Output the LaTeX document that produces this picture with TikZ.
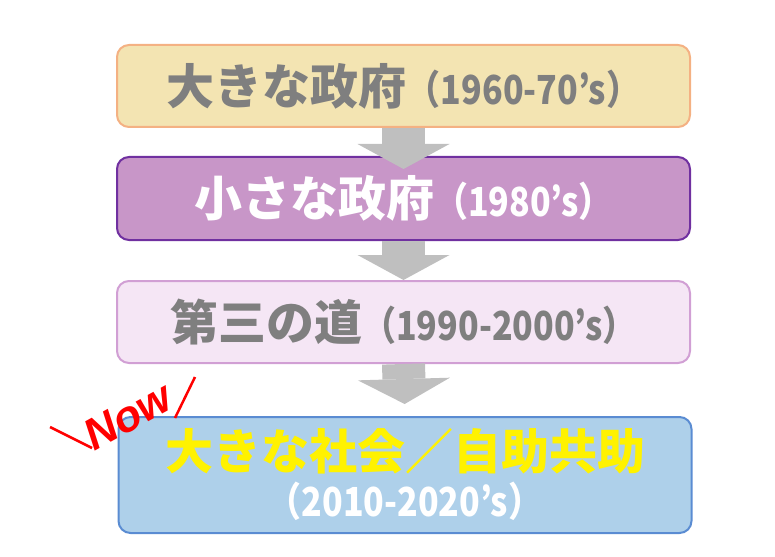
\documentclass[tikz,border=0pt]{standalone}
\usepackage{fontspec}
\usepackage{xcolor}
\setmainfont{Noto Sans CJK JP}
\newfontfamily\yearfont[FakeStretch=0.85]{Noto Sans CJK JP}
\newfontfamily\nowfont{Liberation Sans}
\usetikzlibrary{arrows.meta}

\definecolor{txtgray}{HTML}{7F7F7F}
\definecolor{arrgray}{HTML}{BFBFBF}
\definecolor{bigfill}{HTML}{F3E4B2}
\definecolor{bigline}{HTML}{F4B183}
\definecolor{smallfill}{HTML}{C896C8}
\definecolor{smallline}{HTML}{7030A0}
\definecolor{thirdfill}{HTML}{F5E6F5}
\definecolor{thirdline}{HTML}{D19FD4}
\definecolor{socfill}{HTML}{AED0EA}
\definecolor{socline}{HTML}{5A8CD2}

\newcommand{\bigtxt}[1]{{\fontsize{48}{56}\selectfont #1}}
\newcommand{\yeartxt}[1]{{\yearfont\bfseries\fontsize{40}{46}\selectfont #1}}

\tikzset{
	era/.style={draw, line width=2pt, rounded corners=12pt, minimum width=573pt,
		minimum height=82pt, inner sep=0pt, font=\bfseries\fontsize{34}{47}\selectfont,
		align=center},
	blockarrow/.style={draw=arrgray, line width=43pt,
		-{Triangle[width=92pt, length=25pt, line width=0pt 0]}}
}

\begin{document}
\begin{tikzpicture}[x=1pt, y=-1pt]
		\useasboundingbox (0, 0) rectangle (775, 556);

		\node[era, fill=bigfill, draw=bigline, text=txtgray] (big) at (403.5, 86)
			{\bigtxt{大きな政府}\yeartxt{（1960-70’s）}};
		\node[era, fill=smallfill, draw=smallline, text=white, minimum height=83pt]
			(small) at (403.5, 198.5) {\bigtxt{小さな政府}\yeartxt{（1980’s）}};
		\node[era, fill=thirdfill, draw=thirdline, text=txtgray] (third) at (403.5, 322)
			{\bigtxt{第三の道}\yeartxt{（1990-2000’s）}};
		\node[era, fill=socfill, draw=socline, minimum height=116pt] (society) at (405, 475)
			{\textcolor{yellow}{\bigtxt{大きな社会／自助共助}}\\
			 \textcolor{white}{\yeartxt{（2010-2020’s）}}};

		\draw[blockarrow, shorten >=-13pt] (big.south) -- (small.north);
		\draw[blockarrow] (small.south) -- (third.north);
		\draw[blockarrow, shorten >=12pt] (third.south) -- (society.north);

		% Now
		\node[text=red, font=\nowfont\bfseries\itshape\fontsize{44}{46}\selectfont,
			rotate=29, inner sep=0pt] (now) at (128, 416) {Now};
		\draw[red, line width=2.5pt] (50, 427) -- (92, 448);
		\draw[red, line width=2.5pt] (175, 418) -- (195, 377);
	\end{tikzpicture}
\end{document}
